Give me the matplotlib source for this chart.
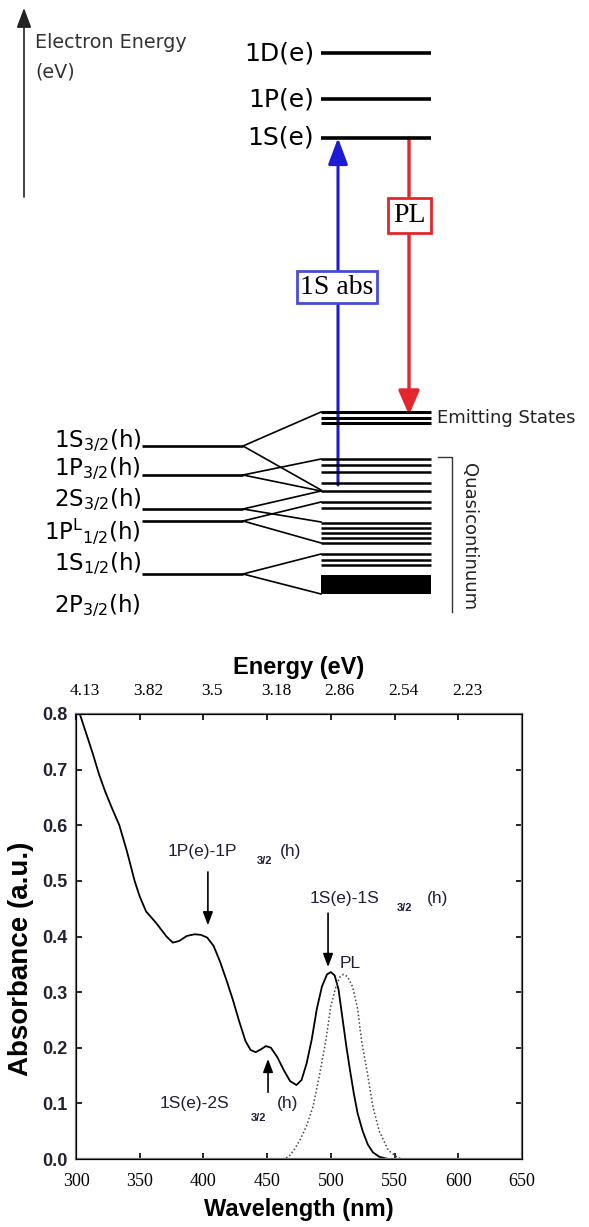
import matplotlib
matplotlib.use("Agg")
import matplotlib.pyplot as plt
from matplotlib.patches import FancyArrowPatch, Rectangle
from matplotlib.transforms import ScaledTranslation

plt.rcParams["mathtext.default"] = "regular"

# ---------------------------------------------------------------
#  Level scheme (diagram units, y grows downwards)
# ---------------------------------------------------------------
electron_labels = ["1D(e)", "1P(e)", "1S(e)"]
electron_y = [53, 99, 138]

hole_labels = ["1S$_{3/2}$(h)", "1P$_{3/2}$(h)", "2S$_{3/2}$(h)",
               "1P$^{L}$${}_{1/2}$(h)", "1S$_{1/2}$(h)", "2P$_{3/2}$(h)"]
hole_label_y = [447, 475, 506, 539, 570, 612]
hole_line_y = [446, 475, 509, 521, 574]
# each hole level fans out into an upper and a lower sublevel
hole_split_y = [(412, 490), (459, 491), (491, 522), (502, 543), (554, 594)]

emitting_y = [412, 418, 423]
quasi_y = [459, 465, 472, 483, 491, 502, 508, 523, 528, 533, 538, 543,
           554, 560, 565]
dense_band = (575, 594)

abs_y = (485, 138)      # 1S absorption: quasicontinuum -> 1S(e)
pl_y = (138, 415)       # PL: 1S(e) -> emitting states

# ---------------------------------------------------------------
#  Absorption / PL spectra
# ---------------------------------------------------------------
wavelength_abs = [303, 308, 313, 318, 323, 328, 334, 340, 346, 350, 355,
                  363, 371, 376, 381, 387, 393, 398, 403, 408, 413, 418,
                  423, 428, 433, 437, 441, 445, 449, 453, 458, 463, 468,
                  473, 477, 481, 485, 489, 493, 497, 500, 503, 506, 509,
                  512, 515, 518, 521, 525, 529, 533, 538, 545]
absorbance = [0.800, 0.765, 0.730, 0.692, 0.660, 0.632, 0.600, 0.553,
              0.500, 0.472, 0.445, 0.424, 0.400, 0.389, 0.392, 0.401,
              0.404, 0.403, 0.398, 0.383, 0.355, 0.322, 0.287, 0.248,
              0.212, 0.196, 0.192, 0.197, 0.203, 0.200, 0.183, 0.160,
              0.140, 0.133, 0.142, 0.172, 0.215, 0.270, 0.310, 0.332,
              0.336, 0.330, 0.305, 0.255, 0.205, 0.160, 0.118, 0.082,
              0.050, 0.026, 0.012, 0.004, 0.000]

wavelength_pl = [462, 467, 471, 476, 481, 486, 491, 496, 500, 504, 507,
                 510, 513, 517, 521, 524, 529, 533, 538, 545, 552, 556]
pl = [0.000, 0.004, 0.016, 0.035, 0.060, 0.094, 0.150, 0.212, 0.275,
      0.310, 0.327, 0.332, 0.328, 0.310, 0.270, 0.214, 0.150, 0.094,
      0.050, 0.016, 0.003, 0.000]

wl_ticks = [300, 350, 400, 450, 500, 550, 600, 650]
absorb_ticks = [0.0, 0.1, 0.2, 0.3, 0.4, 0.5, 0.6, 0.7, 0.8]
energy_ticks = [300, 350, 400, 450, 500, 550, 600]
energy_labels = ["4.13", "3.82", "3.5", "3.18", "2.86", "2.54", "2.23"]

fig = plt.figure(figsize=(5.89, 12.27), dpi=100)

# ===============================================================
#  Energy level diagram
# ===============================================================
ax_d = fig.add_axes([0, 1 - 640 / 1227, 1, 640 / 1227])
ax_d.set_xlim(0, 589)
ax_d.set_ylim(640, 0)
ax_d.axis("off")

sans = "DejaVu Sans"

# energy axis arrow
ax_d.add_patch(FancyArrowPatch((24, 197), (24, 8), arrowstyle="-|>,head_length=1.2,head_width=0.45",
                               mutation_scale=10, color="#222222", lw=1.2, shrinkA=0, shrinkB=0))
ax_d.text(35, 42, "Electron Energy", family=sans, fontsize=13.8, color="#333333", va="center")
ax_d.text(35, 72, "(eV)", family=sans, fontsize=13.8, color="#333333", va="center")

# electron levels
for lab, y in zip(electron_labels, electron_y):
    ax_d.plot([321, 431], [y, y], color="black", lw=2.6, solid_capstyle="butt")
    ax_d.text(314, y, lab, family=sans, fontsize=18, ha="right", va="center")

# hole levels and their splitting
for lab, y in zip(hole_labels, hole_label_y):
    ax_d.text(141, y, lab, family=sans, fontsize=16.5, ha="right", va="baseline")
for y, (yu, yl) in zip(hole_line_y, hole_split_y):
    ax_d.plot([142, 243], [y, y], color="black", lw=1.9, solid_capstyle="butt")
    ax_d.plot([243, 321], [y, yu], color="black", lw=1.2)
    ax_d.plot([243, 321], [y, yl], color="black", lw=1.2)

for y in emitting_y:
    ax_d.plot([321, 431], [y, y], color="black", lw=2.2, solid_capstyle="butt")
for y in quasi_y:
    ax_d.plot([321, 431], [y, y], color="black", lw=1.8, solid_capstyle="butt")
ax_d.add_patch(Rectangle((321, dense_band[0]), 110, dense_band[1] - dense_band[0],
                         color="black", lw=0))

ax_d.text(437, 418, "Emitting States", family=sans, fontsize=13, color="#222222", va="center")
ax_d.plot([438, 452, 452], [457, 457, 612], color="#333333", lw=1.0)
ax_d.text(469, 537, "Quasicontinuum", family=sans, fontsize=13, color="#222222",
          rotation=-90, ha="center", va="center")

# 1S absorption and PL transitions
blue = "#1c1cd8"
red = "#e2262b"
ax_d.add_patch(FancyArrowPatch((338, abs_y[0]), (338, abs_y[1]),
                               arrowstyle="-|>,head_length=1.6,head_width=0.6",
                               mutation_scale=10, color=blue, lw=2.2, shrinkA=0, shrinkB=0))
ax_d.add_patch(FancyArrowPatch((409, pl_y[0]), (409, pl_y[1]),
                               arrowstyle="-|>,head_length=1.5,head_width=0.65",
                               mutation_scale=10, color=red, lw=2.4, shrinkA=0, shrinkB=0))
ax_d.text(337, 287, "1S abs", family="Liberation Serif", fontsize=20, ha="center", va="center",
          bbox=dict(boxstyle="square,pad=0.12", fc="white", ec="#4a4ae0", lw=2))
ax_d.text(409.5, 215, "PL", family="Liberation Serif", fontsize=20, ha="center", va="center",
          bbox=dict(boxstyle="square,pad=0.18", fc="white", ec=red, lw=2))

# ===============================================================
#  Absorbance spectrum
# ===============================================================
ax = fig.add_axes([76 / 589, 68 / 1227, 446 / 589, 445 / 1227])
ax.plot(wavelength_abs, absorbance, color="black", lw=1.3)
ax.plot(wavelength_pl, pl, color="#444444", lw=1.1, linestyle=(0, (1, 1.5)))
ax.set_xlim(300, 650)
ax.set_ylim(0, 0.8)

ax.set_xticks(wl_ticks)
ax.set_xticklabels([str(t) for t in wl_ticks], family="Liberation Serif", fontsize=13)
ax.set_yticks(absorb_ticks)
ax.set_yticklabels(["%.1f" % t for t in absorb_ticks], family="Liberation Sans",
                   fontsize=13, fontweight="bold", color="#222233")
ax.tick_params(axis="x", pad=10)
ax.tick_params(direction="in", length=4, width=1.2, right=True, top=False)
ax.tick_params(axis="y", pad=6)
for sp in ax.spines.values():
    sp.set_color("#777777")
    sp.set_linewidth(1.6)

ax.set_xlabel("Wavelength (nm)", family="Liberation Sans", fontsize=17,
              fontweight="bold", labelpad=6)
ax.set_ylabel("Absorbance (a.u.)", family="Liberation Sans", fontsize=20,
              fontweight="bold")
ax.yaxis.set_label_coords(-0.095, 0.45)

ax_top = ax.twiny()
ax_top.set_xlim(300, 650)
ax_top.set_xticks(energy_ticks)
ax_top.set_xticklabels(energy_labels, family="Liberation Serif", fontsize=12.5)
ax_top.tick_params(direction="in", length=4, width=1.2, pad=11)
for lab in ax_top.get_xticklabels():
    lab.set_transform(lab.get_transform() + ScaledTranslation(9 / 100, 0, fig.dpi_scale_trans))
ax_top.set_xlabel("Energy (eV)", family="Liberation Sans", fontsize=17,
                  fontweight="bold", labelpad=6)

# transition labels: main text, small 3/2 index, then (h)
txt = dict(family="Liberation Sans", fontsize=12.5, color="#1f1f3a", va="center")
sub = dict(family="Liberation Sans", fontsize=8, fontweight="bold", color="#1f1f3a", va="center")
arr = dict(arrowstyle="-|>,head_length=0.8,head_width=0.3", color="black", lw=1.2,
           mutation_scale=10, shrinkA=0, shrinkB=0)

ax.annotate("", xy=(403.5, 0.42), xytext=(403.5, 0.516), arrowprops=arr)
ax.text(372, 0.552, "1P(e)-1P", **txt)
ax.text(442, 0.536, "3/2", **sub)
ax.text(460, 0.552, "(h)", **txt)

ax.annotate("", xy=(497.8, 0.345), xytext=(497.8, 0.442), arrowprops=arr)
ax.text(483.7, 0.469, "1S(e)-1S", **txt)
ax.text(552, 0.452, "3/2", **sub)
ax.text(575, 0.469, "(h)", **txt)
ax.text(507, 0.352, "PL", **txt)

ax.annotate("", xy=(450.7, 0.18), xytext=(450.7, 0.12), arrowprops=arr)
ax.text(366, 0.10, "1S(e)-2S", **txt)
ax.text(437, 0.074, "3/2", **sub)
ax.text(458, 0.10, "(h)", **txt)

fig.savefig("out.png", dpi=100)
